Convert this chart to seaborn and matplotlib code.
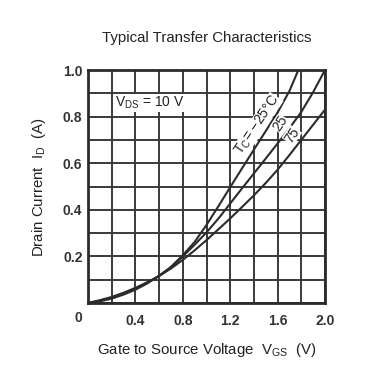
import numpy as np
import pandas as pd
import seaborn as sns
import matplotlib
matplotlib.use("Agg")
import matplotlib.pyplot as plt

# V_GS (V) -> I_D (A) for each case temperature
vgs_m25 = [0.0, 0.1, 0.2, 0.3, 0.4, 0.5, 0.6, 0.7, 0.8, 0.9, 1.0, 1.1, 1.2, 1.3, 1.4, 1.5, 1.6, 1.7, 1.775]
id_m25 = [0.0, 0.007, 0.019, 0.036, 0.057, 0.084, 0.117, 0.155, 0.205, 0.262, 0.335, 0.415, 0.497, 0.578, 0.658, 0.738, 0.818, 0.91, 1.0]

vgs_25 = [0.0, 0.1, 0.2, 0.3, 0.4, 0.5, 0.6, 0.7, 0.8, 0.9, 1.0, 1.1, 1.2, 1.3, 1.4, 1.5, 1.6, 1.7, 1.8, 1.9, 2.0]
id_25 = [0.0, 0.010, 0.023, 0.040, 0.061, 0.087, 0.116, 0.152, 0.20, 0.25, 0.303, 0.362, 0.427, 0.492, 0.556, 0.62, 0.685, 0.75, 0.82, 0.905, 1.0]

vgs_75 = [0.0, 0.1, 0.2, 0.3, 0.4, 0.5, 0.6, 0.7, 0.8, 0.9, 1.0, 1.1, 1.2, 1.3, 1.4, 1.5, 1.6, 1.7, 1.8, 1.9, 2.0]
id_75 = [0.0, 0.012, 0.026, 0.044, 0.065, 0.089, 0.116, 0.148, 0.185, 0.226, 0.27, 0.316, 0.363, 0.412, 0.462, 0.515, 0.572, 0.635, 0.70, 0.765, 0.83]

temps = ["-25", "25", "75"]
x_ticks = [0.0, 0.2, 0.4, 0.6, 0.8, 1.0, 1.2, 1.4, 1.6, 1.8, 2.0]
x_labels = ["", "", "0.4", "", "0.8", "", "1.2", "", "1.6", "", "2.0"]
y_ticks = [0.0, 0.1, 0.2, 0.3, 0.4, 0.5, 0.6, 0.7, 0.8, 0.9, 1.0]
y_labels = ["", "", "0.2", "", "0.4", "", "0.6", "", "0.8", "", "1.0"]

df = pd.concat([
    pd.DataFrame({"vgs": vgs_m25, "id": id_m25, "tc": temps[0]}),
    pd.DataFrame({"vgs": vgs_25, "id": id_25, "tc": temps[1]}),
    pd.DataFrame({"vgs": vgs_75, "id": id_75, "tc": temps[2]}),
])

sns.set_theme(style="white")
plt.rcParams["font.family"] = ["Liberation Sans", "DejaVu Sans"]
plt.rcParams["mathtext.fontset"] = "custom"
plt.rcParams["mathtext.rm"] = "Liberation Sans"
plt.rcParams["mathtext.it"] = "Liberation Sans"

ink = "#2b2b2b"
txt = "#222222"
fig = plt.figure(figsize=(3.75, 3.72), dpi=100)
ax = fig.add_axes([88 / 375, 1 - 303 / 372, 237 / 375, 233 / 372])

sns.lineplot(data=df, x="vgs", y="id", hue="tc", palette=[ink] * 3,
             linewidth=1.5, legend=False, sort=False, ax=ax)

ax.set_xlim(0, 2.0)
ax.set_ylim(0, 1.0)
ax.set_xticks(x_ticks)
ax.set_xticklabels(x_labels)
ax.set_yticks(y_ticks)
ax.set_yticklabels(y_labels)
ax.grid(True, color="#3a3a3a", linewidth=1.4)
ax.set_axisbelow(True)
for s in ax.spines.values():
    s.set_color(ink)
    s.set_linewidth(2.0)
ax.tick_params(length=0, labelsize=10, colors="#333333")
ax.tick_params(axis="x", pad=8)
ax.tick_params(axis="y", pad=4)
for lab in ax.get_xticklabels() + ax.get_yticklabels():
    lab.set_fontweight("bold")
fig.text(78 / 375, 1 - 318 / 372, "0", ha="center", va="center",
         fontsize=10, fontweight="bold", color="#333333")

ax.set_xlabel(r"Gate to Source Voltage  $\mathregular{V_{GS}}$  (V)", fontsize=10.8,
              color=txt, labelpad=9)
ax.set_ylabel(r"Drain Current  $\mathregular{I_D}$  (A)", fontsize=10.8,
              color=txt, labelpad=11)
fig.text(207 / 375, 1 - 38 / 372, "Typical Transfer Characteristics",
         ha="center", va="center", fontsize=10.8, color=txt)

# annotations
ax.text(0.23, 0.86, r"$\mathregular{V_{DS}}$ = 10 V", fontsize=10, color=txt,
        ha="left", va="center", bbox=dict(facecolor="white", edgecolor="none", pad=0.5))
ax.text(1.43, 0.764, r"$\mathregular{T_C}$= −25°C", fontsize=10, color=txt,
        rotation=56, ha="center", va="center",
        bbox=dict(facecolor="white", edgecolor="none", pad=0.1))
ax.text(1.62, 0.77, "25", fontsize=10, color=txt, rotation=56,
        ha="center", va="center", bbox=dict(facecolor="white", edgecolor="none", pad=0.1))
ax.text(1.72, 0.72, "75", fontsize=10, color=txt, rotation=56,
        ha="center", va="center", bbox=dict(facecolor="white", edgecolor="none", pad=0.1))

fig.savefig("out.png", dpi=100)
